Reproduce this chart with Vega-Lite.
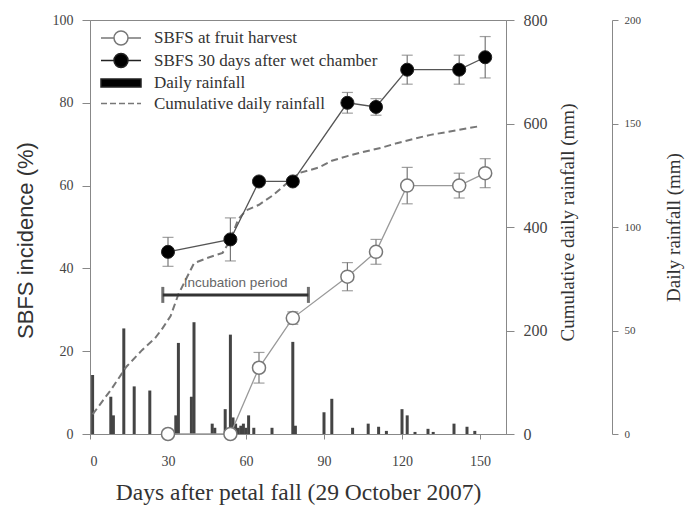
{
  "$schema": "https://vega.github.io/schema/vega-lite/v6.json",
  "width": 416,
  "height": 414,
  "autosize": {"type": "none"},
  "padding": {"left": 90, "top": 20, "right": 189, "bottom": 78},
  "background": "white",
  "config": {
    "view": {"stroke": "#888", "strokeWidth": 1},
    "axis": {
      "domainColor": "#888",
      "tickColor": "#888",
      "labelColor": "#444",
      "titleColor": "#333",
      "labelFont": "Liberation Serif",
      "titleFont": "Liberation Serif",
      "titleFontWeight": "normal",
      "grid": false,
      "labelFontSize": 14
    }
  },
  "datasets": {
    "rain": [
      {"day": 1, "mm": 28.5}, {"day": 8, "mm": 18}, {"day": 9, "mm": 9}, {"day": 13, "mm": 51},
      {"day": 17, "mm": 23}, {"day": 23, "mm": 21}, {"day": 33, "mm": 9}, {"day": 34, "mm": 44},
      {"day": 39, "mm": 18}, {"day": 40, "mm": 54}, {"day": 47, "mm": 5}, {"day": 48, "mm": 3},
      {"day": 52, "mm": 12}, {"day": 54, "mm": 48}, {"day": 55, "mm": 8}, {"day": 56, "mm": 5},
      {"day": 57, "mm": 3}, {"day": 58, "mm": 4}, {"day": 59, "mm": 5}, {"day": 60, "mm": 3},
      {"day": 61, "mm": 9}, {"day": 63, "mm": 3}, {"day": 70, "mm": 3}, {"day": 78, "mm": 44.5},
      {"day": 79, "mm": 4}, {"day": 90, "mm": 10.5}, {"day": 93, "mm": 17}, {"day": 101, "mm": 3},
      {"day": 107, "mm": 5}, {"day": 111, "mm": 3.5}, {"day": 114, "mm": 1.5}, {"day": 120, "mm": 12},
      {"day": 122, "mm": 9}, {"day": 125, "mm": 1}, {"day": 130, "mm": 2.5}, {"day": 132, "mm": 1},
      {"day": 140, "mm": 5}, {"day": 145, "mm": 3.5}, {"day": 148, "mm": 1.5}
    ],
    "cum": [
      {"day": 1, "mm": 38}, {"day": 8, "mm": 85}, {"day": 14, "mm": 130}, {"day": 20, "mm": 162},
      {"day": 25, "mm": 185}, {"day": 28, "mm": 205}, {"day": 31, "mm": 228}, {"day": 34, "mm": 270},
      {"day": 37, "mm": 300}, {"day": 40, "mm": 330}, {"day": 45, "mm": 340}, {"day": 51, "mm": 350},
      {"day": 54, "mm": 375}, {"day": 57, "mm": 415}, {"day": 60, "mm": 432}, {"day": 65, "mm": 443},
      {"day": 70, "mm": 460}, {"day": 74, "mm": 477}, {"day": 78, "mm": 495}, {"day": 81, "mm": 505},
      {"day": 88, "mm": 515}, {"day": 93, "mm": 528}, {"day": 99, "mm": 537}, {"day": 105, "mm": 545},
      {"day": 112, "mm": 553}, {"day": 118, "mm": 562}, {"day": 125, "mm": 571}, {"day": 131, "mm": 578},
      {"day": 140, "mm": 586}, {"day": 150, "mm": 595}
    ],
    "sbfs": [
      {"day": 30, "h": 0, "h_lo": 0, "h_hi": 0, "w": 44, "w_lo": 40.5, "w_hi": 47.5},
      {"day": 54, "h": 0, "h_lo": 0, "h_hi": 0, "w": 47, "w_lo": 41.8, "w_hi": 52.2},
      {"day": 65, "h": 16, "h_lo": 12.3, "h_hi": 19.7, "w": 61, "w_lo": 61, "w_hi": 61},
      {"day": 78, "h": 28, "h_lo": 26.5, "h_hi": 29.5, "w": 61, "w_lo": 61, "w_hi": 61},
      {"day": 99, "h": 38, "h_lo": 34.6, "h_hi": 41.4, "w": 80, "w_lo": 77.5, "w_hi": 82.5},
      {"day": 110, "h": 44, "h_lo": 41, "h_hi": 47, "w": 79, "w_lo": 77, "w_hi": 81},
      {"day": 122, "h": 60, "h_lo": 55.6, "h_hi": 64.4, "w": 88, "w_lo": 84.5, "w_hi": 91.5},
      {"day": 142, "h": 60, "h_lo": 57, "h_hi": 63, "w": 88, "w_lo": 84.5, "w_hi": 91.5},
      {"day": 152, "h": 63, "h_lo": 59.5, "h_hi": 66.5, "w": 91, "w_lo": 86, "w_hi": 96}
    ],
    "incub": [
      {"start": 28, "end": 84, "mid": 56, "y": 33.6, "label": "Incubation period"}
    ],
    "legend": [
      {"series": "SBFS at fruit harvest"},
      {"series": "SBFS 30 days after wet chamber"},
      {"series": "Daily rainfall"},
      {"series": "Cumulative daily rainfall"}
    ]
  },
  "layer": [
    {
      "data": {"name": "rain"},
      "mark": {"type": "bar", "width": 3, "color": "#444"},
      "encoding": {
        "x": {
          "field": "day", "type": "quantitative",
          "scale": {"domain": [0, 160], "nice": false, "zero": false, "padding": 0},
          "axis": {"values": [0, 30, 60, 90, 120, 150], "tickSize": 5, "labelPadding": 15, "title": "Days after petal fall (29 October 2007)", "titleFontSize": 23.5, "titlePadding": 12}
        },
        "y": {
          "field": "mm", "type": "quantitative",
          "scale": {"domain": [0, 200], "nice": false},
          "axis": {"orient": "right", "offset": 106, "values": [0, 50, 100, 150, 200], "labelFontSize": 11, "tickSize": 6, "labelPadding": 6, "title": "Daily rainfall (mm)", "titleFontSize": 19, "titleAngle": 270, "titleX": 61, "titleY": 207, "titleAlign": "center", "titleBaseline": "middle"}
        }
      }
    },
    {
      "data": {"name": "cum"},
      "mark": {"type": "line", "strokeDash": [7, 4], "color": "#777", "strokeWidth": 2},
      "encoding": {
        "x": {"field": "day", "type": "quantitative", "scale": {"domain": [0, 160], "nice": false, "zero": false, "padding": 0}, "title": "Days after petal fall (29 October 2007)"},
        "y": {
          "field": "mm", "type": "quantitative",
          "scale": {"domain": [0, 800], "nice": false},
          "axis": {"orient": "right", "offset": 0, "values": [0, 200, 400, 600, 800], "labelFontSize": 16, "tickSize": 8, "labelPadding": 9, "title": "Cumulative daily rainfall (mm)", "titleFontSize": 19, "titleAngle": 270, "titleX": 61, "titleY": 202, "titleAlign": "center", "titleBaseline": "middle"}
        }
      }
    },
    {
      "layer": [
        {
          "data": {"name": "incub"},
          "mark": {"type": "rule", "strokeWidth": 3, "color": "#333"},
          "encoding": {
            "x": {"field": "start", "type": "quantitative", "scale": {"domain": [0, 160], "nice": false, "zero": false, "padding": 0}, "title": "Days after petal fall (29 October 2007)"},
            "x2": {"field": "end"},
            "y": {
              "field": "y", "type": "quantitative",
              "scale": {"domain": [0, 100], "nice": false},
              "axis": {"orient": "left", "values": [0, 20, 40, 60, 80, 100], "tickSize": 8, "labelPadding": 9, "labelFontSize": 14, "title": "SBFS incidence (%)", "titleFont": "Liberation Sans", "titleFontSize": 22, "titleX": -65, "titleY": 220, "titleAngle": 270, "titleAlign": "center", "titleBaseline": "middle"}
            }
          }
        },
        {
          "data": {"name": "incub"},
          "mark": {"type": "tick", "orient": "vertical", "size": 16, "thickness": 3, "color": "#333"},
          "encoding": {
            "x": {"field": "start", "type": "quantitative", "title": "Days after petal fall (29 October 2007)"},
            "y": {"field": "y", "type": "quantitative", "scale": {"domain": [0, 100], "nice": false}, "title": "SBFS incidence (%)"}
          }
        },
        {
          "data": {"name": "incub"},
          "mark": {"type": "tick", "orient": "vertical", "size": 16, "thickness": 3, "color": "#333"},
          "encoding": {
            "x": {"field": "end", "type": "quantitative", "title": "Days after petal fall (29 October 2007)"},
            "y": {"field": "y", "type": "quantitative", "scale": {"domain": [0, 100], "nice": false}, "title": "SBFS incidence (%)"}
          }
        },
        {
          "data": {"name": "incub"},
          "mark": {"type": "text", "font": "Liberation Sans", "fontSize": 13.5, "color": "#666", "dy": -12, "align": "center", "baseline": "middle"},
          "encoding": {
            "x": {"field": "mid", "type": "quantitative", "title": "Days after petal fall (29 October 2007)"},
            "y": {"field": "y", "type": "quantitative", "scale": {"domain": [0, 100], "nice": false}, "title": "SBFS incidence (%)"},
            "text": {"field": "label"}
          }
        },
        {
          "data": {"name": "sbfs"},
          "mark": {"type": "rule", "color": "#777", "strokeWidth": 1.2},
          "encoding": {
            "x": {"field": "day", "type": "quantitative", "title": "Days after petal fall (29 October 2007)"},
            "y": {"field": "h_lo", "type": "quantitative", "scale": {"domain": [0, 100], "nice": false}, "title": "SBFS incidence (%)"},
            "y2": {"field": "h_hi"}
          }
        },
        {
          "data": {"name": "sbfs"},
          "mark": {"type": "tick", "orient": "horizontal", "size": 11, "thickness": 1.2, "color": "#777"},
          "encoding": {
            "x": {"field": "day", "type": "quantitative", "title": "Days after petal fall (29 October 2007)"},
            "y": {"field": "h_lo", "type": "quantitative", "scale": {"domain": [0, 100], "nice": false}, "title": "SBFS incidence (%)"}
          }
        },
        {
          "data": {"name": "sbfs"},
          "mark": {"type": "tick", "orient": "horizontal", "size": 11, "thickness": 1.2, "color": "#777"},
          "encoding": {
            "x": {"field": "day", "type": "quantitative", "title": "Days after petal fall (29 October 2007)"},
            "y": {"field": "h_hi", "type": "quantitative", "scale": {"domain": [0, 100], "nice": false}, "title": "SBFS incidence (%)"}
          }
        },
        {
          "data": {"name": "sbfs"},
          "mark": {"type": "rule", "color": "#777", "strokeWidth": 1.2},
          "encoding": {
            "x": {"field": "day", "type": "quantitative", "title": "Days after petal fall (29 October 2007)"},
            "y": {"field": "w_lo", "type": "quantitative", "scale": {"domain": [0, 100], "nice": false}, "title": "SBFS incidence (%)"},
            "y2": {"field": "w_hi"}
          }
        },
        {
          "data": {"name": "sbfs"},
          "mark": {"type": "tick", "orient": "horizontal", "size": 11, "thickness": 1.2, "color": "#777"},
          "encoding": {
            "x": {"field": "day", "type": "quantitative", "title": "Days after petal fall (29 October 2007)"},
            "y": {"field": "w_lo", "type": "quantitative", "scale": {"domain": [0, 100], "nice": false}, "title": "SBFS incidence (%)"}
          }
        },
        {
          "data": {"name": "sbfs"},
          "mark": {"type": "tick", "orient": "horizontal", "size": 11, "thickness": 1.2, "color": "#777"},
          "encoding": {
            "x": {"field": "day", "type": "quantitative", "title": "Days after petal fall (29 October 2007)"},
            "y": {"field": "w_hi", "type": "quantitative", "scale": {"domain": [0, 100], "nice": false}, "title": "SBFS incidence (%)"}
          }
        },
        {
          "data": {"name": "sbfs"},
          "mark": {"type": "line", "color": "#999", "strokeWidth": 1.3},
          "encoding": {
            "x": {"field": "day", "type": "quantitative", "title": "Days after petal fall (29 October 2007)"},
            "y": {"field": "h", "type": "quantitative", "scale": {"domain": [0, 100], "nice": false}, "title": "SBFS incidence (%)"}
          }
        },
        {
          "data": {"name": "sbfs"},
          "mark": {"type": "line", "color": "#555", "strokeWidth": 1.3},
          "encoding": {
            "x": {"field": "day", "type": "quantitative", "title": "Days after petal fall (29 October 2007)"},
            "y": {"field": "w", "type": "quantitative", "scale": {"domain": [0, 100], "nice": false}, "title": "SBFS incidence (%)"}
          }
        },
        {
          "data": {"name": "sbfs"},
          "mark": {"type": "point", "shape": "circle", "size": 170, "fill": "white", "stroke": "#777", "strokeWidth": 1.5, "opacity": 1},
          "encoding": {
            "x": {"field": "day", "type": "quantitative", "title": "Days after petal fall (29 October 2007)"},
            "y": {"field": "h", "type": "quantitative", "scale": {"domain": [0, 100], "nice": false}, "title": "SBFS incidence (%)"}
          }
        },
        {
          "data": {"name": "sbfs"},
          "mark": {"type": "point", "shape": "circle", "size": 170, "fill": "black", "stroke": "#222", "strokeWidth": 1, "opacity": 1},
          "encoding": {
            "x": {"field": "day", "type": "quantitative", "title": "Days after petal fall (29 October 2007)"},
            "y": {"field": "w", "type": "quantitative", "scale": {"domain": [0, 100], "nice": false}, "title": "SBFS incidence (%)"}
          }
        },
        {
          "data": {"name": "legend"},
          "mark": {"type": "point", "opacity": 0},
          "encoding": {
            "shape": {
              "field": "series", "type": "nominal", "sort": null,
              "scale": {
                "domain": ["SBFS at fruit harvest", "SBFS 30 days after wet chamber", "Daily rainfall", "Cumulative daily rainfall"],
                "range": [
                  "M-2,0L-0.7,0M0.7,0L2,0M-0.7,0A0.7,0.7,0,1,1,0.7,0A0.7,0.7,0,1,1,-0.7,0Z",
                  "M-2,0L-0.7,0M0.7,0L2,0M-0.7,0A0.7,0.7,0,1,1,0.7,0A0.7,0.7,0,1,1,-0.7,0Z",
                  "M-2,-0.4L2,-0.4L2,0.4L-2,0.4Z",
                  "M-2,0L-1.4,0M-1.1,0L-0.5,0M-0.2,0L0.4,0M0.7,0L1.3,0M1.6,0L2,0"
                ]
              },
              "legend": {"orient": "none", "legendX": 20, "legendY": 7, "title": null, "symbolSize": 400, "symbolStrokeWidth": 1.5, "symbolOpacity": 1, "labelFont": "Liberation Serif", "labelFontSize": 17, "labelColor": "#333", "labelOffset": 22, "labelLimit": 400, "rowPadding": 1.5, "padding": 0}
            },
            "fill": {
              "field": "series", "type": "nominal", "sort": null,
              "scale": {
                "domain": ["SBFS at fruit harvest", "SBFS 30 days after wet chamber", "Daily rainfall", "Cumulative daily rainfall"],
                "range": ["white", "black", "black", "transparent"]
              },
              "legend": {"orient": "none", "legendX": 20, "legendY": 7, "title": null}
            },
            "stroke": {
              "field": "series", "type": "nominal", "sort": null,
              "scale": {
                "domain": ["SBFS at fruit harvest", "SBFS 30 days after wet chamber", "Daily rainfall", "Cumulative daily rainfall"],
                "range": ["#777", "#222", "#222", "#777"]
              },
              "legend": {"orient": "none", "legendX": 20, "legendY": 7, "title": null}
            }
          }
        }
      ]
    }
  ],
  "resolve": {"scale": {"y": "independent"}}
}
